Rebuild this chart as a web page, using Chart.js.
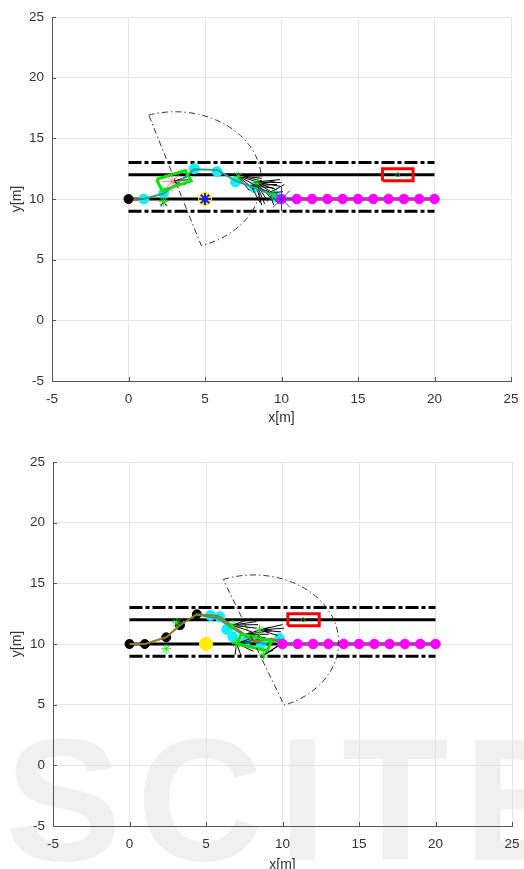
<!DOCTYPE html>
<html>
<head>
<meta charset="utf-8">
<script src="https://cdn.jsdelivr.net/npm/chart.js@4.4.1/dist/chart.umd.min.js"></script>
<style>
  html, body { margin: 0; padding: 0; background: #fff; overflow: hidden; }
  #wrap { position: relative; width: 524px; height: 869px; overflow: hidden; }
  canvas { position: absolute; left: 0; }
  #top { top: 0; }
  #bottom { top: 432px; }
  #mark {
    position: absolute; left: 5px; top: 712px; white-space: nowrap;
    font: bold 175px/1 'Liberation Sans', Arial, sans-serif;
    letter-spacing: 15px; color: #f0f0f0;
  }
</style>
</head>
<body>
<div id="wrap">
  <div id="mark">SCITE</div>
  <canvas id="top" width="524" height="432"></canvas>
  <canvas id="bottom" width="524" height="444"></canvas>
</div>
<script>
// tick labels (both axes, both plots)
const axisTicks = [-5, 0, 5, 10, 15, 20, 25];

// road: solid lane lines and dash-dot borders, x from 0 to 20
const roadX = [0, 20];
const laneSolidY = [10, 12];
const laneDashY = [9, 13];

// reference points ahead (magenta)
const refX = [10, 11, 12, 13, 14, 15, 16, 17, 18, 19, 20];
const refY = 10;

// ---- frame 1 (upper plot) ----
const t1Start = [[0, 10]];
const t1Trail = [[0, 10], [1, 10]];
const t1Path = [[0, 10], [1, 10], [2.3, 10.45], [3.4, 11.5], [4.3, 12.45], [5.8, 12.4], [7.0, 11.5], [8.3, 10.9], [9.6, 10.25], [10, 10]];
const t1Cyan = [[1, 10], [2.3, 10.5], [4.3, 12.5], [5.8, 12.25], [7.0, 11.4], [8.2, 10.95], [9.6, 10.2]];
const t1Green = [[2.3, 9.8], [7.2, 11.85], [8.4, 11.3], [9.4, 10.4]];
const t1Car = [[1.83, 11.63], [3.72, 12.34], [4.09, 11.49], [2.2, 10.69]];
const t1CarStar = [[2.85, 11.43]];
const t1Goal = [[5, 10]];
const t1BigStar = [[10, 10]];
const t1Obstacle = [[16.6, 11.5], [18.6, 11.5], [18.6, 12.5], [16.6, 12.5]];
const t1ObstacleMid = [[17.6, 12]];
const t1Sector = [3.04, 11.54, 5.65, 17.7]; // cx, cy, radius, heading (deg)
const t1Fans = [
  [[7.1, 11.95], [[8.6, 11.9], [8.7, 11.7], [8.7, 11.5], [8.6, 11.3], [8.4, 11.05], [8.2, 10.8], [7.9, 10.7]]],
  [[8.3, 11.4], [[9.9, 11.6], [10.0, 11.35], [9.9, 11.05], [9.7, 10.75], [9.5, 10.45], [9.3, 10.1], [9.1, 9.8], [8.9, 9.6], [8.7, 9.5]]],
  [[8.0, 11.1], [[9.6, 11.5], [9.7, 11.2], [9.5, 10.9], [9.2, 10.6], [8.6, 9.7]]],
  [[9.2, 10.5], [[10.2, 11.2], [10.1, 10.6], [9.8, 9.6], [9.5, 9.5]]],
  [[2.85, 11.43], [[3.8, 11.8], [3.9, 11.6], [3.7, 11.2]]],
  [[2.3, 9.8], [[2.5, 9.4], [2.1, 9.4]]]
];

// ---- frame 2 (lower plot) ----
const t2Visited = [[0, 10], [1, 10], [2.4, 10.55], [3.3, 11.55], [4.4, 12.45]];
const t2Trail = [[0, 10], [1, 10], [2.4, 10.55], [3.3, 11.55], [4.4, 12.45], [5.8, 12.3], [8.2, 10.2], [9.3, 10.45], [10, 10]];
const t2Path = [[4.4, 12.4], [5.7, 12.15], [7.6, 10.6], [8.8, 10.0], [9.8, 10.4], [10, 10]];
const t2Cyan = [[5.3, 12.35], [5.9, 12.25], [6.35, 11.2], [6.75, 10.6], [7.6, 10.2], [8.6, 10.05], [9.8, 10.45]];
const t2Green = [[2.4, 9.6], [3.1, 11.75], [6.7, 11.55], [7.0, 10.05], [8.5, 11.15], [8.75, 9.1]];
const t2Car = [[7.30, 10.83], [9.29, 10.25], [9.0, 9.45], [7.04, 10.0]];
const t2Goal = [[5, 10]];
const t2Obstacle = [[10.35, 11.5], [12.4, 11.5], [12.4, 12.5], [10.35, 12.5]];
const t2ObstacleMid = [[11.35, 12]];
const t2Sector = [8.12, 10.14, 5.55, 21];
const t2Fans = [
  [[6.7, 11.55], [[8.0, 12.1], [8.3, 11.85], [8.4, 11.6], [8.3, 11.3], [8.0, 11.0]]],
  [[7.0, 10.05], [[8.5, 10.7], [8.6, 10.4], [8.5, 10.1], [7.3, 9.0], [6.9, 9.1], [8.1, 9.4]]],
  [[8.5, 11.15], [[10.0, 11.6], [10.1, 11.3], [9.9, 11.0], [9.7, 10.7]]],
  [[7.6, 10.8], [[9.2, 11.4], [9.3, 11.1], [9.1, 10.8], [8.9, 10.5]]],
  [[8.75, 9.1], [[9.7, 9.8], [9.4, 9.5], [9.9, 10.0]]]
];

const pts = arr => arr.map(([x, y]) => ({ x, y }));

function line(arr, color, width, dash) {
  return {
    data: pts(arr), showLine: true, pointRadius: 0,
    borderColor: color, borderWidth: width, borderDash: dash || [], fill: false
  };
}

function closed(arr, color, width) {
  return line(arr.concat([arr[0]]), color, width);
}

function marks(arr, style, radius, fill, stroke, width) {
  return {
    data: pts(arr), showLine: false, pointStyle: style, pointRadius: radius,
    pointBackgroundColor: fill, pointBorderColor: stroke, pointBorderWidth: width
  };
}

function fanLines(fans) {
  const out = [];
  fans.forEach(([from, ends]) => ends.forEach(end => out.push(line([from, end], '#000', 1))));
  return out;
}

function road() {
  const out = [];
  laneSolidY.forEach(y => out.push(line(roadX.map(x => [x, y]), '#000', 3)));
  laneDashY.forEach(y => out.push(line(roadX.map(x => [x, y]), '#000', 3, [13, 3, 4, 3])));
  return out;
}

function refMarks() {
  const r = refX.map(x => [x, refY]);
  return [line(r, '#ff00ff', 2), marks(r, 'circle', 4.8, '#ff00ff', '#ff00ff', 1)];
}

// datasets listed back to front, reversed so later ones draw on top
const frame1 = [].concat(
  road(),
  [marks(t1Goal, 'circle', 6.5, '#ffee00', '#ffee00', 1)],
  [marks(t1Cyan, 'circle', 5, '#10f0f8', '#10f0f8', 1)],
  fanLines(t1Fans),
  [line(t1Path, '#2e9e8c', 2)],
  [line(t1Trail, '#a0522d', 1.5)],
  [marks(t1Green, 'star', 5, '#22dd22', '#22dd22', 1)],
  [closed(t1Car, '#00e600', 3)],
  [marks(t1CarStar, 'star', 10, '#ff8080', '#ff8080', 1)],
  [marks(t1Goal, 'star', 6, '#1a1aff', '#1a1aff', 2)],
  refMarks(),
  [marks(t1BigStar, 'star', 12, '#3030ff', '#3030ff', 1)],
  [closed(t1Obstacle, '#ff0000', 3)],
  [marks(t1ObstacleMid, 'circle', 2, 'rgba(0,0,0,0)', '#22aa22', 1)],
  [marks(t1Start, 'circle', 4.5, '#000', '#000', 1)]
).reverse();

const frame2 = [].concat(
  road(),
  [marks(t2Goal, 'circle', 6.5, '#ffee00', '#ffee00', 1)],
  [marks(t2Cyan, 'circle', 5, '#10f0f8', '#10f0f8', 1)],
  fanLines(t2Fans),
  [marks(t2Visited, 'circle', 4.5, '#000', '#000', 1)],
  [line(t2Path, '#2e9e8c', 2)],
  [line(t2Trail, '#8a7f1c', 2)],
  [marks(t2Green, 'star', 5, '#22dd22', '#22dd22', 1)],
  [closed(t2Car, '#00e600', 3)],
  refMarks(),
  [closed(t2Obstacle, '#ff0000', 3)],
  [marks(t2ObstacleMid, 'circle', 2, 'rgba(0,0,0,0)', '#22aa22', 1)]
).reverse();

// half-disc sensor area, drawn in data space through the scales
const sectorPlugin = {
  id: 'sector',
  afterDatasetsDraw(chart, args, opts) {
    const { ctx, chartArea: a, scales: { x, y } } = chart;
    const [cx, cy, r, h] = opts.arc;
    const px = x.getPixelForValue(cx), py = y.getPixelForValue(cy);
    const rx = Math.abs(x.getPixelForValue(cx + r) - px);
    const ry = Math.abs(y.getPixelForValue(cy + r) - py);
    const ang = h * Math.PI / 180;
    ctx.save();
    ctx.beginPath();
    ctx.rect(a.left, a.top, a.right - a.left, a.bottom - a.top);
    ctx.clip();
    ctx.beginPath();
    ctx.ellipse(px, py, rx, ry, 0, -ang - Math.PI / 2, -ang + Math.PI / 2);
    ctx.closePath();
    ctx.setLineDash([6, 3, 1.5, 3]);
    ctx.strokeStyle = '#333';
    ctx.lineWidth = 1;
    ctx.stroke();
    ctx.restore();
  }
};

// MATLAB style inward tick marks
const innerTicks = {
  id: 'innerTicks',
  afterDraw(chart) {
    const { ctx, chartArea: a, scales: { x, y } } = chart;
    ctx.save();
    ctx.strokeStyle = '#555';
    ctx.lineWidth = 1;
    ctx.beginPath();
    axisTicks.forEach(v => {
      const px = Math.round(x.getPixelForValue(v)) + 0.5;
      ctx.moveTo(px, a.bottom);
      ctx.lineTo(px, a.bottom - 4);
      const py = Math.round(y.getPixelForValue(v)) + 0.5;
      ctx.moveTo(a.left, py);
      ctx.lineTo(a.left + 4, py);
    });
    ctx.stroke();
    ctx.restore();
  }
};

const tickFont = { family: 'Liberation Sans, Arial, sans-serif', size: 13.5 };
const titleFont = { family: 'Liberation Sans, Arial, sans-serif', size: 14 };

function makeScales(yWidth, xHeight, xTitlePad) {
  const setTicks = s => { s.ticks = axisTicks.map(v => ({ value: v })); };
  return {
    x: {
      type: 'linear', min: -5, max: 25,
      afterBuildTicks: setTicks,
      afterFit: s => { s.height = xHeight; s.paddingLeft = 0; s.paddingRight = 0; },
      grid: { color: '#e4e4e4', drawTicks: false },
      border: { color: '#555', width: 1 },
      ticks: { color: '#333', font: tickFont, padding: 10, maxRotation: 0 },
      title: { display: true, text: 'x[m]', color: '#333', font: titleFont, padding: { top: 0, bottom: xTitlePad } }
    },
    y: {
      type: 'linear', min: -5, max: 25,
      afterBuildTicks: setTicks,
      afterFit: s => { s.width = yWidth; s.paddingTop = 0; s.paddingBottom = 0; },
      grid: { color: '#e4e4e4', drawTicks: false },
      border: { color: '#555', width: 1 },
      ticks: { color: '#333', font: tickFont, padding: 8 },
      title: { display: true, text: 'y[m]', color: '#333', font: titleFont, padding: { top: 9, bottom: 0 } }
    }
  };
}

function makeChart(id, datasets, sector, padTop, yWidth, xHeight, xTitlePad) {
  return new Chart(document.getElementById(id), {
    type: 'scatter',
    data: { datasets },
    options: {
      responsive: false,
      animation: false,
      devicePixelRatio: 1,
      layout: { padding: { top: padTop, right: 12, bottom: 0, left: 0 } },
      scales: makeScales(yWidth, xHeight, xTitlePad),
      plugins: {
        legend: { display: false },
        tooltip: { enabled: false },
        sector: { arc: sector }
      }
    },
    plugins: [sectorPlugin, innerTicks]
  });
}

makeChart('top', frame1, t1Sector, 17, 52, 51, 5.6);
makeChart('bottom', frame2, t2Sector, 30, 53, 50, 2.6);
</script>
</body>
</html>
